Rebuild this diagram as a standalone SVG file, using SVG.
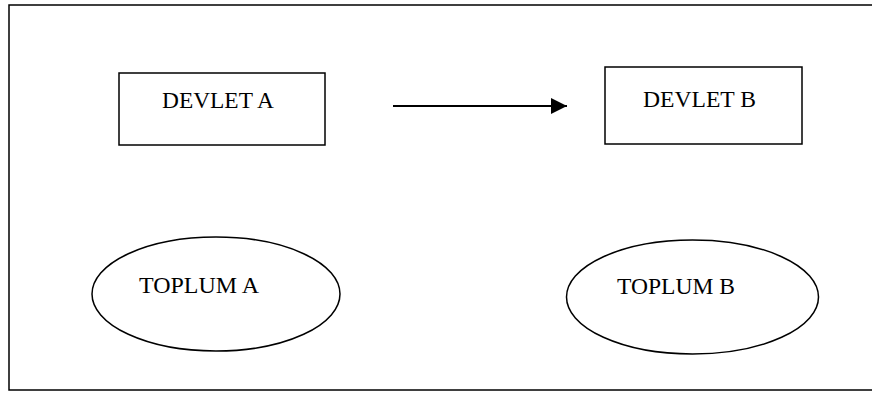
<svg xmlns="http://www.w3.org/2000/svg" width="872" height="394" viewBox="0 0 872 394">
<style>
.shape{fill:#fff;stroke:#000;stroke-width:1.5}
.lbl{font-family:"Liberation Serif","Times New Roman",serif;font-size:23.5px;fill:#000}
</style>
<defs>
<marker id="ah" markerWidth="8" markerHeight="8" refX="8" refY="4" orient="auto" markerUnits="strokeWidth">
<path d="M0,0 L8,4 L0,8 Z" fill="#000"/>
</marker>
</defs>
<rect width="872" height="394" fill="#fff"/>
<rect id="frame" x="9" y="5" width="875" height="385" fill="none" stroke="#000" stroke-width="1.5"/>
<g id="devlet-a">
<rect class="shape" x="119" y="73" width="206" height="72"/>
<text class="lbl" x="162" y="107.5" textLength="112" lengthAdjust="spacingAndGlyphs">DEVLET A</text>
</g>
<g id="devlet-b">
<rect class="shape" x="605" y="67" width="197" height="77"/>
<text class="lbl" x="643" y="107" textLength="113" lengthAdjust="spacingAndGlyphs">DEVLET B</text>
</g>
<g id="toplum-a">
<ellipse class="shape" cx="216" cy="294" rx="124" ry="57"/>
<text class="lbl" x="139" y="292.5" textLength="120" lengthAdjust="spacingAndGlyphs">TOPLUM A</text>
</g>
<g id="toplum-b">
<ellipse class="shape" cx="692.5" cy="297" rx="126" ry="57"/>
<text class="lbl" x="617" y="294" textLength="118" lengthAdjust="spacingAndGlyphs">TOPLUM B</text>
</g>
<g id="connectors">
<line x1="393" y1="106" x2="567" y2="106" stroke="#000" stroke-width="2" marker-end="url(#ah)"/>
</g>
</svg>
